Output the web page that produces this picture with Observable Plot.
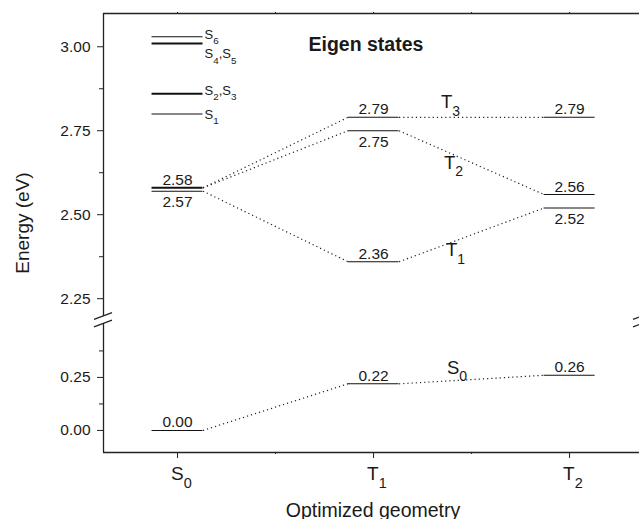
<!DOCTYPE html>
<html>
<head>
<meta charset="utf-8">
<script src="https://cdn.jsdelivr.net/npm/d3@7"></script>
<script src="https://cdn.jsdelivr.net/npm/@observablehq/plot@0.6"></script>
<style>
  html, body { margin: 0; padding: 0; background: #fff; overflow: hidden; }
  #chart svg { display: block; }
</style>
</head>
<body>
<div id="chart"></div>
<script>
// Optimized geometries, placed at x = 0, 1, 2
const geometries = ["S_0", "T_1", "T_2"];

// Ground and triplet state energies (eV) at each optimized geometry
const stateNames = ["S_0", "T_1", "T_2", "T_3"];
const energyS0 = [0.00, 0.22, 0.26];
const energyT1 = [2.57, 2.36, 2.52];
const energyT2 = [2.58, 2.75, 2.56];
const energyT3 = [2.58, 2.79, 2.79];

// Singlet excited states at the S0 geometry
const singletNames = ["S_1", "S_2", "S_3", "S_4", "S_5", "S_6"];
const singletEnergies = [2.80, 2.86, 2.86, 3.01, 3.01, 3.03];

// Axis ticks (broken energy axis)
const yMajorTicks = [0, 0.25, 2.25, 2.5, 2.75, 3.0];
const yMinorTicks = [0.125, 0.375, 2.375, 2.625, 2.875];
const xMajorTicks = [0, 1, 2];
const xMinorTicks = [0.5, 1.5];

// ---- layout ----
const font = "'Liberation Sans', Arial, Helvetica, sans-serif";
const ink = "#1a1a1a";
const hw = 0.13;                         // half width of a level bar (x units)
const xDomain = [-0.3776, 2.372];
// piecewise energy scale: lower panel [-0.104, 0.502], upper panel [2.197, 3.099]
const yDomain = [-0.104, 0.502, 2.197, 3.099];
const yRange = [452, 323.5, 316, 13];

const stateEnergies = [energyS0, energyT1, energyT2, energyT3];

// level bars, merged where states are degenerate
const levelMap = new Map();
function addLevel(x, E) {
  const key = x + "|" + E;
  if (levelMap.has(key)) levelMap.get(key).n++;
  else levelMap.set(key, {x, E, n: 1});
}
stateEnergies.forEach(es => es.forEach((E, i) => addLevel(i, E)));
singletEnergies.forEach(E => addLevel(0, E));
const levels = [...levelMap.values()];

// dotted correlation lines between geometries
const links = [];
stateEnergies.forEach(es => {
  for (let i = 0; i < es.length - 1; i++) {
    links.push({x1: i + hw, y1: es[i], x2: i + 1 - hw, y2: es[i + 1]});
  }
});

// value labels: the lower of two close levels is labelled underneath
const valueLabels = [];
geometries.forEach((g, i) => {
  const es = [...new Set(stateEnergies.map(s => s[i]))];
  es.forEach(E => {
    const below = es.some(o => o > E && o - E < 0.06);
    valueLabels.push({x: i, E, below});
  });
});
const fmt = d3.format(".2f");

// singlet labels grouped by energy
const singletGroups = d3.groups(singletNames.map((n, i) => ({n, E: singletEnergies[i]})), d => d.E)
  .map(([E, arr]) => ({E, text: arr.map(d => d.n).join(",")}));
const singletDy = {"S_1": 5, "S_2,S_3": 1, "S_4,S_5": 15, "S_6": 2};

// state labels between the T1 and T2 geometries
const labelX = 1.4;
const stateLabelDx = [-5, -6, -8, -11];
const stateLabelDy = [-7, 14, 14.5, -9];
const stateLabelMarks = stateNames.map((name, k) => {
  const es = stateEnergies[k];
  const t = (labelX - (1 + hw)) / ((2 - hw) - (1 + hw));
  const E = es[1] + t * (es[2] - es[1]);
  return Plot.text([{x: labelX, E, name}], {
    x: "x", y: "E", text: "name", textAnchor: "start", lineAnchor: "bottom",
    dx: stateLabelDx[k], dy: stateLabelDy[k], fontSize: 18.5, fill: ink
  });
});

// broken-axis markers on both vertical edges
function axisBreaks(index, scales) {
  const {x, y} = scales;
  const g = d3.create("svg:g").attr("stroke", "#222").attr("stroke-width", 1.3).attr("fill", "none");
  for (const xv of xDomain) {
    const px = x(xv);
    for (const v of [yDomain[2], yDomain[1]]) {
      const py = y(v);
      g.append("line").attr("x1", px - 9).attr("y1", py + 3.3).attr("x2", px + 9).attr("y2", py - 3.3);
    }
  }
  return g.node();
}

const edges = [
  {x: xDomain[0], y1: yDomain[0], y2: yDomain[1]},
  {x: xDomain[0], y1: yDomain[2], y2: yDomain[3]},
  {x: xDomain[1], y1: yDomain[0], y2: yDomain[1]},
  {x: xDomain[1], y1: yDomain[2], y2: yDomain[3]}
];

const chart = Plot.plot({
  width: 645,
  height: 519,
  marginLeft: 103,
  marginRight: 3,
  marginTop: 13,
  marginBottom: 67,
  style: {fontFamily: font, color: ink, background: "#fff", maxWidth: "none", overflow: "visible"},
  x: {type: "linear", domain: xDomain},
  y: {type: "linear", domain: yDomain, range: yRange},
  marks: [
    // frame
    Plot.ruleY([yDomain[0], yDomain[3]], {stroke: "#222", strokeWidth: 1.3}),
    Plot.ruleX(edges, {x: "x", y1: "y1", y2: "y2", stroke: "#222", strokeWidth: 1.3}),
    axisBreaks,
    // axes
    Plot.axisY(yMajorTicks, {tickSize: 6, tickPadding: 7, tickFormat: fmt, fontSize: 15.5, label: null, stroke: "#222", fill: ink}),
    Plot.axisY(yMinorTicks, {tickSize: 4, tickFormat: () => "", label: null, stroke: "#222"}),
    Plot.axisX(xMajorTicks, {tickSize: 6, tickFormat: () => "", label: null, stroke: "#222"}),
    Plot.axisX(xMinorTicks, {tickSize: 2, tickFormat: () => "", label: null, stroke: "#222"}),
    Plot.axisX([...xMajorTicks, ...xMinorTicks], {anchor: "top", tickSize: 2, tickFormat: () => "", label: null, stroke: "#222"}),
    Plot.text(geometries, {x: (d, i) => i, frameAnchor: "bottom", lineAnchor: "top", textAnchor: "start", dx: -6.5, dy: 14, fontSize: 19, fill: ink}),
    // correlation lines
    Plot.link(links, {x1: "x1", y1: "y1", x2: "x2", y2: "y2", stroke: "#222", strokeWidth: 1.2, strokeDasharray: "1.2,3"}),
    // energy levels
    Plot.ruleY(levels, {y: "E", x1: d => d.x - hw, x2: d => d.x + hw, stroke: "#111", strokeWidth: d => d.n > 1 ? 2 : 1.1}),
    // level values
    Plot.text(valueLabels.filter(d => !d.below), {x: "x", y: "E", text: d => fmt(d.E), lineAnchor: "bottom", dy: -3, fontSize: 15.5, fill: ink}),
    Plot.text(valueLabels.filter(d => d.below), {x: "x", y: "E", text: d => fmt(d.E), lineAnchor: "top", dy: 5, fontSize: 15.5, fill: ink}),
    // singlet labels
    ...singletGroups.map(d => Plot.text([d], {x: hw, y: "E", text: "text", textAnchor: "start", lineAnchor: "bottom", dx: 1.5, dy: singletDy[d.text], fontSize: 13, fill: ink})),
    // state labels
    ...stateLabelMarks,
    // titles
    Plot.text(["Eigen states"], {frameAnchor: "top-left", textAnchor: "start", lineAnchor: "bottom", dx: 205, dy: 37, fontSize: 19.5, fontWeight: "bold", fill: ink}),
    Plot.text(["Energy (eV)"], {frameAnchor: "left", textAnchor: "middle", rotate: -90, dx: -81, dy: -10, fontSize: 19, fill: ink}),
    Plot.text(["Optimized geometry"], {frameAnchor: "bottom", textAnchor: "middle", lineAnchor: "bottom", dy: 64, fontSize: 19.5, fill: ink})
  ]
});

document.getElementById("chart").appendChild(chart);

// render "X_n" as X with a subscript n
chart.querySelectorAll("text").forEach(t => {
  const s = t.textContent;
  if (!s.includes("_")) return;
  const fs = parseFloat(getComputedStyle(t).fontSize) || 15;
  const shift = 0.42 * fs;
  const subSize = 0.76 * fs;
  const parts = s.split(/_(\w)/);
  t.textContent = "";
  let offset = 0;
  parts.forEach((p, i) => {
    if (!p) return;
    const sp = document.createElementNS("http://www.w3.org/2000/svg", "tspan");
    const isSub = i % 2 === 1;
    const target = isSub ? shift : 0;
    if (target !== offset) sp.setAttribute("dy", target - offset);
    offset = target;
    if (isSub) sp.setAttribute("font-size", subSize);
    sp.textContent = p;
    t.appendChild(sp);
  });
});
</script>
</body>
</html>
